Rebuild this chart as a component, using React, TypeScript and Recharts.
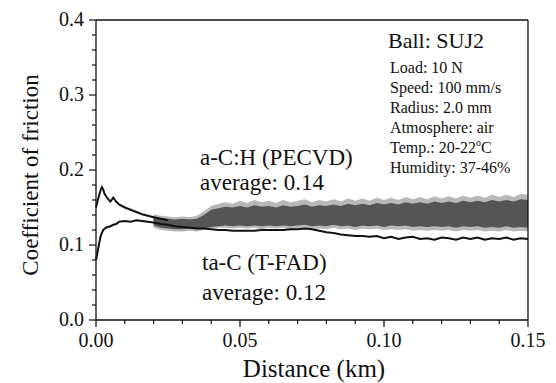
import React from 'react';
import {
  ComposedChart,
  Line,
  Area,
  XAxis,
  YAxis,
  ReferenceLine,
} from 'recharts';

// distance (km)
const distance = [
  0, 0.0005, 0.001, 0.0015, 0.002, 0.0025, 0.003, 0.004, 0.005, 0.006,
  0.007, 0.008, 0.01, 0.012, 0.014, 0.016, 0.018,
  0.02, 0.0225, 0.025, 0.0275, 0.03, 0.0325, 0.035, 0.0375, 0.04, 0.0425,
  0.045, 0.0475, 0.05, 0.0525, 0.055, 0.0575, 0.06, 0.0625, 0.065, 0.0675,
  0.07, 0.0725, 0.075, 0.0775, 0.08, 0.0825, 0.085, 0.0875, 0.09, 0.0925,
  0.095, 0.0975, 0.1, 0.1025, 0.105, 0.1075, 0.11, 0.1125, 0.115, 0.1175,
  0.12, 0.1225, 0.125, 0.1275, 0.13, 0.1325, 0.135, 0.1375, 0.14, 0.1425,
  0.145, 0.1475, 0.15,
];

// a-C:H (PECVD), thin early run-in part (0 - 0.025 km)
const acHEarly = [
  0.15, 0.158, 0.165, 0.172, 0.177, 0.174, 0.168, 0.162, 0.158, 0.163,
  0.158, 0.154, 0.15, 0.147, 0.144, 0.141, 0.139, 0.137, 0.135, 0.133,
];

// a-C:H noisy band, from 0.020 km on
const BAND_START = 17;
const acHInnerHigh = [
  0.138, 0.136, 0.135, 0.134, 0.135, 0.134, 0.135, 0.14, 0.147, 0.149,
  0.151, 0.15, 0.152, 0.15, 0.153, 0.151, 0.152, 0.15, 0.153, 0.151,
  0.152, 0.154, 0.151, 0.153, 0.152, 0.154, 0.152, 0.155, 0.153, 0.155,
  0.153, 0.156, 0.154, 0.156, 0.154, 0.157, 0.155, 0.157, 0.155, 0.158,
  0.156, 0.158, 0.156, 0.159, 0.157, 0.159, 0.157, 0.16, 0.158, 0.16,
  0.158, 0.161, 0.16,
];
const acHInnerLow = [
  0.126, 0.123, 0.122, 0.121, 0.121, 0.122, 0.121, 0.122, 0.124, 0.125,
  0.126, 0.125, 0.126, 0.125, 0.126, 0.125, 0.126, 0.125, 0.126, 0.125,
  0.126, 0.127, 0.125, 0.126, 0.125, 0.127, 0.125, 0.126, 0.124, 0.126,
  0.125, 0.126, 0.124, 0.126, 0.125, 0.126, 0.124, 0.125, 0.124, 0.125,
  0.124, 0.125, 0.123, 0.125, 0.124, 0.125, 0.123, 0.124, 0.123, 0.125,
  0.123, 0.124, 0.123,
];
const acHOuterHigh = [
  0.141, 0.139, 0.138, 0.137, 0.138, 0.137, 0.139, 0.145, 0.152, 0.155,
  0.157, 0.155, 0.159, 0.156, 0.16, 0.157, 0.159, 0.156, 0.16, 0.157,
  0.159, 0.161, 0.157, 0.16, 0.158, 0.161, 0.158, 0.162, 0.159, 0.162,
  0.159, 0.163, 0.16, 0.163, 0.16, 0.164, 0.161, 0.164, 0.161, 0.165,
  0.162, 0.165, 0.162, 0.166, 0.163, 0.166, 0.163, 0.167, 0.164, 0.167,
  0.164, 0.168, 0.167,
];
const acHOuterLow = [
  0.123, 0.12, 0.119, 0.118, 0.118, 0.119, 0.118, 0.12, 0.122, 0.123,
  0.123, 0.122, 0.123, 0.122, 0.123, 0.121, 0.123, 0.122, 0.123, 0.121,
  0.122, 0.123, 0.121, 0.122, 0.121, 0.123, 0.121, 0.122, 0.12, 0.122,
  0.121, 0.122, 0.12, 0.121, 0.12, 0.121, 0.119, 0.12, 0.119, 0.12,
  0.119, 0.12, 0.118, 0.12, 0.119, 0.12, 0.118, 0.119, 0.118, 0.12,
  0.118, 0.119, 0.118,
];

// ta-C (T-FAD)
const taC = [
  0.08, 0.09, 0.1, 0.11, 0.116, 0.12, 0.122, 0.124, 0.125, 0.127,
  0.128, 0.131, 0.132, 0.131, 0.133, 0.132, 0.131,
  0.13, 0.128, 0.127, 0.125, 0.124, 0.123, 0.122, 0.122, 0.121, 0.12,
  0.12, 0.119, 0.119, 0.119, 0.119, 0.12, 0.12, 0.12, 0.12, 0.121,
  0.121, 0.122, 0.121, 0.119, 0.117, 0.116, 0.114, 0.113, 0.112, 0.112,
  0.111, 0.112, 0.109, 0.111, 0.108, 0.11, 0.111, 0.108, 0.109, 0.107,
  0.11, 0.109, 0.107, 0.11, 0.108, 0.11, 0.107, 0.109, 0.108, 0.11,
  0.107, 0.109, 0.108,
];

const xTicks = [
  0, 0.01, 0.02, 0.03, 0.04, 0.05, 0.06, 0.07, 0.08, 0.09, 0.1, 0.11, 0.12,
  0.13, 0.14, 0.15,
];
const yTicks = [
  0, 0.02, 0.04, 0.06, 0.08, 0.1, 0.12, 0.14, 0.16, 0.18, 0.2, 0.22, 0.24,
  0.26, 0.28, 0.3, 0.32, 0.34, 0.36, 0.38, 0.4,
];

const conditions = [
  'Load: 10 N',
  'Speed: 100 mm/s',
  'Radius: 2.0 mm',
  'Atmosphere: air',
];

const data = distance.map((d, i) => {
  const j = i - BAND_START;
  const inBand = j >= 0;
  return {
    d,
    acHEarly: i < acHEarly.length ? acHEarly[i] : null,
    inner: inBand ? [acHInnerLow[j], acHInnerHigh[j]] : null,
    outer: inBand ? [acHOuterLow[j], acHOuterHigh[j]] : null,
    taC: taC[i],
  };
});

const FONT = '"Liberation Serif", "Times New Roman", serif';

const isMultiple = (v: number, step: number) =>
  Math.abs(v / step - Math.round(v / step)) < 1e-6;

function YTick(props: any) {
  const { x, y, payload } = props;
  const major = isMultiple(payload.value, 0.1);
  return (
    <g>
      <line x1={x - (major ? 7 : 4)} x2={x} y1={y} y2={y} stroke="#111" strokeWidth={1.2} />
      {major && (
        <text x={x - 12} y={y + 6} textAnchor="end" fontSize={20} fontFamily={FONT} fill="#111">
          {payload.value.toFixed(1)}
        </text>
      )}
    </g>
  );
}

function XTick(props: any) {
  const { x, y, payload } = props;
  const major = isMultiple(payload.value, 0.05);
  return (
    <g>
      <line x1={x} x2={x} y1={y} y2={y + (major ? 7 : 4)} stroke="#111" strokeWidth={1.2} />
      {major && (
        <text x={x} y={y + 27} textAnchor="middle" fontSize={20} fontFamily={FONT} fill="#111">
          {payload.value.toFixed(2)}
        </text>
      )}
    </g>
  );
}

export default function App() {
  return (
    <div style={{ position: 'absolute', left: 0, top: 0, width: 556, height: 383, background: '#fff' }}>
      <ComposedChart
        width={556}
        height={383}
        data={data}
        margin={{ top: 20, right: 28, bottom: 0, left: 0 }}
      >
        <XAxis
          dataKey="d"
          type="number"
          domain={[0, 0.15]}
          ticks={xTicks}
          interval={0}
          tickSize={0}
          tickMargin={0}
          tick={<XTick />}
          height={63}
          axisLine={{ stroke: '#111', strokeWidth: 1.3 }}
        />
        <YAxis
          type="number"
          domain={[0, 0.4]}
          ticks={yTicks}
          interval={0}
          tickSize={0}
          tickMargin={0}
          tick={<YTick />}
          width={96}
          axisLine={{ stroke: '#111', strokeWidth: 1.3 }}
        />
        <ReferenceLine y={0.4} stroke="#111" strokeWidth={1.3} />
        <ReferenceLine x={0.15} stroke="#111" strokeWidth={1.3} />
        <Area
          dataKey="outer"
          stroke="none"
          fill="#b8b8b8"
          fillOpacity={1}
          isAnimationActive={false}
          connectNulls={false}
        />
        <Area
          dataKey="inner"
          stroke="none"
          fill="#555555"
          fillOpacity={1}
          isAnimationActive={false}
          connectNulls={false}
        />
        <Line
          dataKey="acHEarly"
          stroke="#111"
          strokeWidth={2}
          dot={false}
          isAnimationActive={false}
        />
        <Line
          dataKey="taC"
          stroke="#111"
          strokeWidth={2}
          dot={false}
          isAnimationActive={false}
        />
      </ComposedChart>
      <svg
        width={556}
        height={383}
        style={{ position: 'absolute', left: 0, top: 0, pointerEvents: 'none' }}
        fontFamily={FONT}
        fill="#111"
      >
        <text x={30} y={175} fontSize={23} textAnchor="middle" transform="rotate(-90 30 175)" dy={8}>
          Coefficient of friction
        </text>
        <text x={314} y={377} fontSize={25} textAnchor="middle">
          Distance (km)
        </text>
        <text x={388} y={48} fontSize={22}>Ball: SUJ2</text>
        {conditions.map((t, i) => (
          <text key={t} x={390} y={73 + i * 20} fontSize={16}>
            {t}
          </text>
        ))}
        <text x={390} y={153} fontSize={16}>
          Temp.: 20-22
          <tspan fontSize={10} dy={-7}>o</tspan>
          <tspan dy={7}>C</tspan>
        </text>
        <text x={390} y={173} fontSize={16}>Humidity: 37-46%</text>
        <text x={200} y={165} fontSize={23}>a-C:H (PECVD)</text>
        <text x={200} y={190} fontSize={23}>average: 0.14</text>
        <text x={202} y={270} fontSize={23}>ta-C (T-FAD)</text>
        <text x={202} y={300} fontSize={23}>average: 0.12</text>
      </svg>
    </div>
  );
}
